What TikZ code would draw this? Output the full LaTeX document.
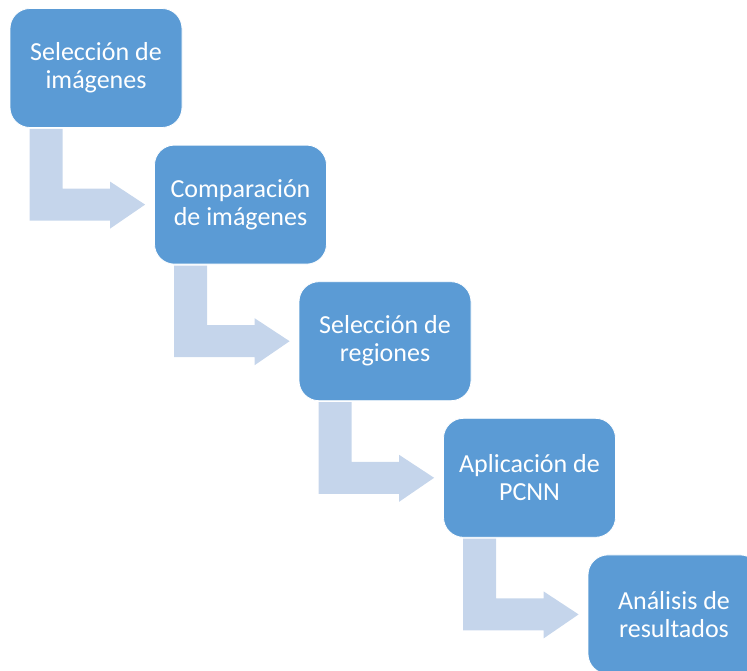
\documentclass[tikz,border=0pt]{standalone}
\usepackage{fontspec}
\setmainfont{Carlito}
\usetikzlibrary{calc}
\definecolor{stepblue}{RGB}{91,155,213}
\definecolor{flowblue}{RGB}{197,213,235}

\tikzset{
    stepbox/.style={draw=white, line width=0.8pt, fill=stepblue, rounded corners=20pt,
        minimum width=172pt, minimum height=119pt, text=white, align=center,
        font=\fontsize{26}{28}\selectfont},
    flow/.style={fill=flowblue}
}

\begin{document}
\begin{tikzpicture}[x=1pt,y=1pt]
    % Frame
    \useasboundingbox (0,0) rectangle (747,-670);
    \clip (0,0) rectangle (747,-670);

    % Steps
    \foreach \i/\txt in {1/{Selección de\\imágenes},
                         2/{Comparación\\de imágenes},
                         3/{Selección de\\regiones},
                         4/{Aplicación de\\PCNN},
                         5/{Análisis de\\resultados}} {
        \node[stepbox] (box\i) at ({(\i-1)*144.5+96}, {-(\i-1)*136.6-68}) {\txt};
    }

    % Bent arrows between steps
    \foreach \i [evaluate=\i as \j using int(\i+1)] in {1,...,4} {
        \fill[flow] let \p1=(box\i.south west), \p2=($(box\j.west)+(-9,0)$) in
            (\x1+20,\y1-1) -- (\x1+53,\y1-1) -- (\x1+53,\y2+16) -- (\x2-35,\y2+16)
            -- (\x2-35,\y2+23) -- (\p2) -- (\x2-35,\y2-24) -- (\x2-35,\y2-16)
            -- (\x1+20,\y2-16) -- cycle;
    }
\end{tikzpicture}
\end{document}
